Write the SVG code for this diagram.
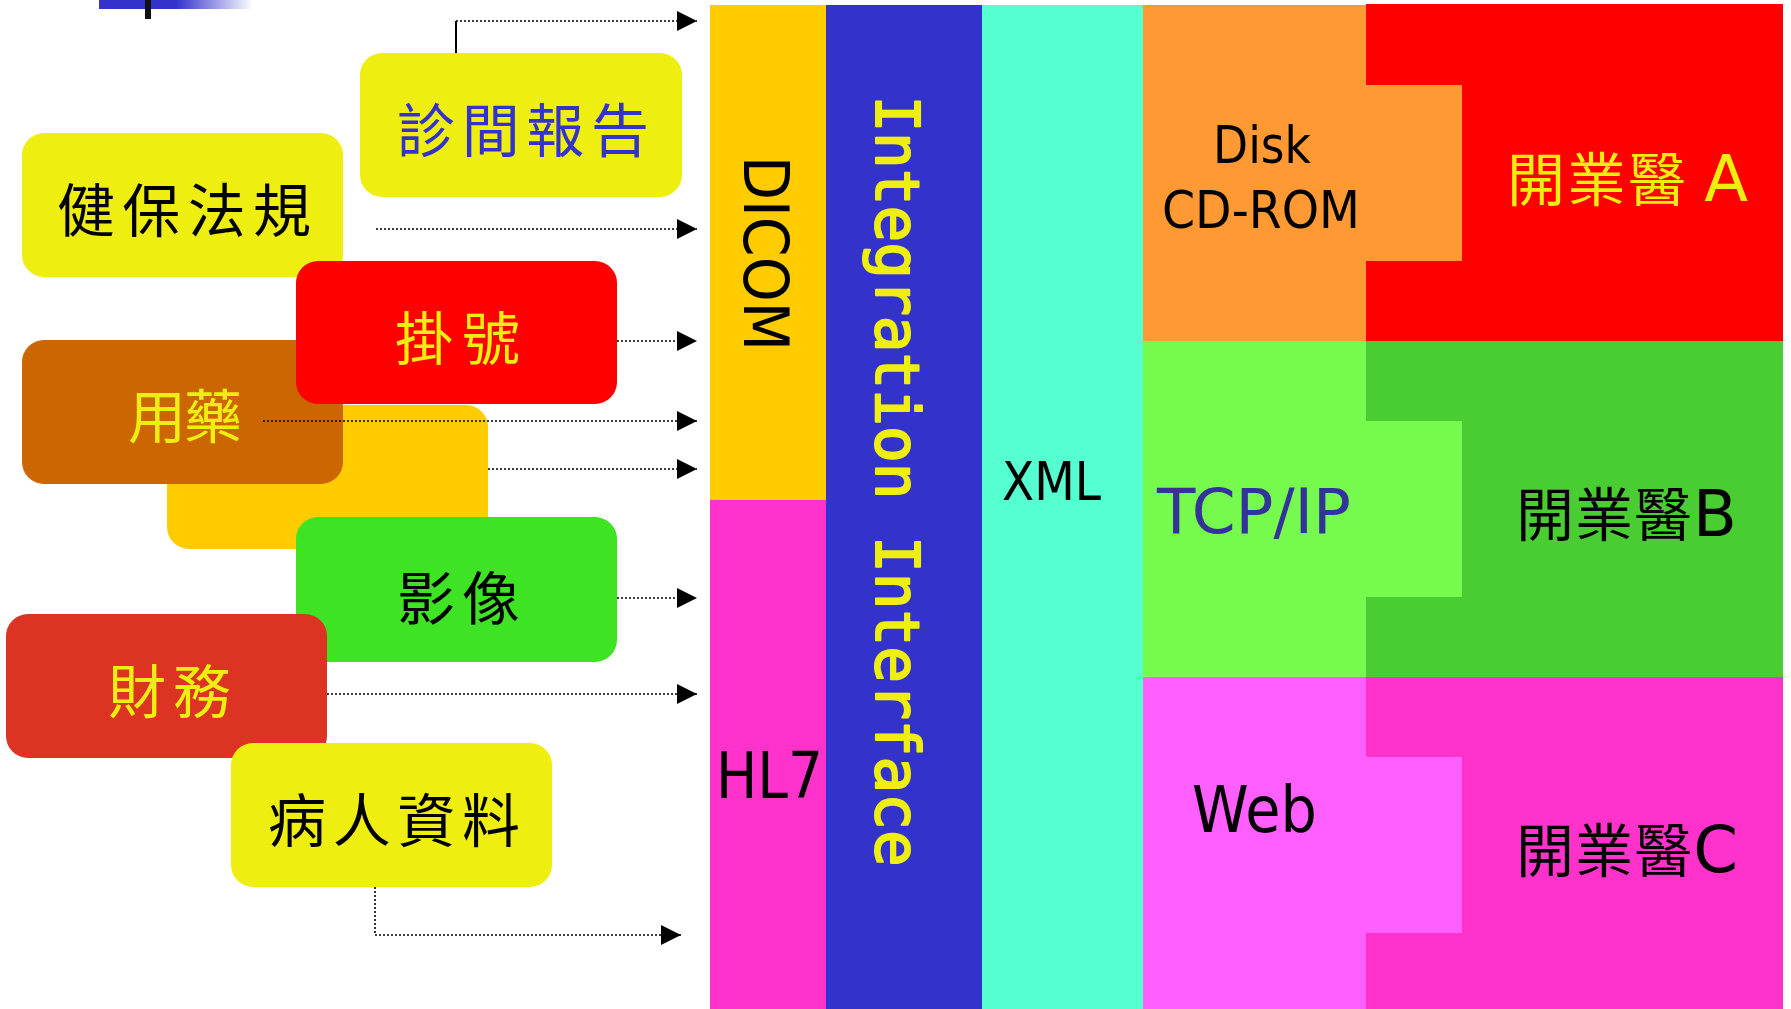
<svg xmlns="http://www.w3.org/2000/svg" width="1791" height="1009" viewBox="0 0 1791 1009">
<defs>
<linearGradient id="fade" x1="0" y1="0" x2="1" y2="0">
<stop offset="0" stop-color="#3333CC"/>
<stop offset="0.5" stop-color="#3333CC"/>
<stop offset="1" stop-color="#3333CC" stop-opacity="0"/>
</linearGradient>
<marker id="arr" markerUnits="userSpaceOnUse" markerWidth="20" markerHeight="20" refX="20" refY="10" orient="auto">
<path d="M0,0 L20,10 L0,20 z" fill="#000"/>
</marker>
<style>
.box{stroke:none}
.cjk{font-family:"Noto Sans CJK TC","Noto Sans CJK SC",sans-serif;font-size:58px}
.lat{font-family:"DejaVu Sans","Liberation Sans",sans-serif}
.conn{fill:none;stroke:#000;stroke-width:1.6;stroke-dasharray:2 2}
</style>
</defs>
<rect width="1791" height="1009" fill="#fff"/>

<g id="title-bar">
<rect x="99" y="0" width="154" height="9" fill="url(#fade)"/>
<rect x="145" y="0" width="6" height="19" fill="#111"/>
</g>

<g id="col-dicom">
<rect x="710" y="5" width="116" height="495" fill="#FFCC00"/>
<text class="lat" transform="translate(744,253.5) rotate(90)" text-anchor="middle" font-size="63" textLength="195" lengthAdjust="spacingAndGlyphs" fill="#000">DICOM</text>
</g>
<g id="col-hl7">
<rect x="710" y="500" width="116" height="509" fill="#FF33CC"/>
<text class="lat" x="716" y="798" font-size="64" textLength="107" lengthAdjust="spacingAndGlyphs" fill="#000">HL7</text>
</g>
<g id="col-integration">
<rect x="826" y="5" width="156" height="1004" fill="#3333CC"/>
<text transform="translate(876,481) rotate(90)" text-anchor="middle" font-family="'DejaVu Sans Mono','Liberation Mono',monospace" font-size="61" fill="#EEEE11" stroke="#EEEE11" stroke-width="2" stroke-linejoin="round">Integration Interface</text>
</g>
<g id="col-xml">
<rect x="982" y="5" width="161" height="1004" fill="#55FFD0"/>
<text class="lat" x="1002" y="500" font-size="54" textLength="99" lengthAdjust="spacingAndGlyphs" fill="#000">XML</text>
</g>

<g id="node-a">
<rect x="1366" y="4" width="417" height="337" fill="#FF0000"/>
<text class="cjk" x="1507" y="201" textLength="241" lengthAdjust="spacing" fill="#EEEE11">開業醫 <tspan class="lat" font-size="64">A</tspan></text>
</g>
<g id="node-disk">
<rect x="1143" y="5" width="223" height="336" fill="#FF9933"/>
<rect x="1365" y="85" width="97" height="176" fill="#FF9933"/>
<text class="lat" x="1262" y="163" text-anchor="middle" font-size="52" textLength="98" lengthAdjust="spacingAndGlyphs" fill="#000">Disk</text>
<text class="lat" x="1261" y="228" text-anchor="middle" font-size="52" textLength="198" lengthAdjust="spacingAndGlyphs" fill="#000">CD-ROM</text>
</g>

<g id="node-b">
<rect x="1366" y="341" width="417" height="336" fill="#4ACD33"/>
<text class="cjk" x="1516" y="536" textLength="221" lengthAdjust="spacing" fill="#000">開業醫<tspan class="lat" font-size="64">B</tspan></text>
</g>
<g id="node-tcp">
<rect x="1143" y="341" width="223" height="336" fill="#75FA4D"/>
<rect x="1365" y="421" width="97" height="176" fill="#75FA4D"/>
<text class="lat" x="1157" y="533" font-size="63" textLength="194" lengthAdjust="spacingAndGlyphs" fill="#333399">TCP/IP</text>
</g>

<g id="node-c">
<rect x="1366" y="677" width="417" height="332" fill="#FF33CC"/>
<text class="cjk" x="1516" y="872" textLength="222" lengthAdjust="spacing" fill="#000">開業醫<tspan class="lat" font-size="64">C</tspan></text>
</g>
<g id="node-web">
<rect x="1143" y="677" width="223" height="332" fill="#FF5FFF"/>
<rect x="1365" y="757" width="97" height="176" fill="#FF5FFF"/>
<text class="lat" x="1192" y="832" font-size="64" textLength="125" lengthAdjust="spacingAndGlyphs" fill="#000">Web</text>
</g>

<g id="box-clinic-report">
<rect class="box" x="360" y="53" width="322" height="144" rx="22" fill="#EEEE11"/>
<text class="cjk" x="397" y="152" textLength="252" lengthAdjust="spacing" fill="#3333CC">診間報告</text>
</g>
<g id="box-insurance">
<rect class="box" x="22" y="133" width="321" height="144" rx="22" fill="#EEEE11"/>
<text class="cjk" x="57" y="232" textLength="254" lengthAdjust="spacing" fill="#000">健保法規</text>
</g>
<g id="box-blank">
<rect class="box" x="167" y="405" width="321" height="144" rx="22" fill="#FFCC00"/>
</g>
<g id="box-medication">
<rect class="box" x="22" y="340" width="321" height="144" rx="22" fill="#CC6600"/>
<text class="cjk" x="128" y="438" textLength="114" lengthAdjust="spacing" fill="#EEEE11">用藥</text>
</g>
<g id="box-registration">
<rect class="box" x="296" y="261" width="321" height="143" rx="22" fill="#FF0000"/>
<text class="cjk" x="395" y="360" textLength="125" lengthAdjust="spacing" fill="#EEEE11">掛號</text>
</g>
<g id="box-imaging">
<rect class="box" x="296" y="517" width="321" height="145" rx="22" fill="#3EE324"/>
<text class="cjk" x="397" y="620" textLength="123" lengthAdjust="spacing" fill="#000">影像</text>
</g>
<g id="box-finance">
<rect class="box" x="6" y="614" width="321" height="144" rx="22" fill="#DD3322"/>
<text class="cjk" x="108" y="713" textLength="123" lengthAdjust="spacing" fill="#EEEE11">財務</text>
</g>
<g id="box-patient">
<rect class="box" x="231" y="743" width="321" height="144" rx="22" fill="#EEEE11"/>
<text class="cjk" x="268" y="842" textLength="252" lengthAdjust="spacing" fill="#000">病人資料</text>
</g>

<g id="connectors">
<line x1="456" y1="53" x2="456" y2="21" stroke="#000" stroke-width="2"/>
<path class="conn" d="M456,21 H697" marker-end="url(#arr)"/>
<path class="conn" d="M376,229 H697" marker-end="url(#arr)"/>
<path class="conn" d="M617,341 H697" marker-end="url(#arr)"/>
<path class="conn" d="M263,421 H697" marker-end="url(#arr)"/>
<path class="conn" d="M488,469 H697" marker-end="url(#arr)"/>
<path class="conn" d="M617,598 H697" marker-end="url(#arr)"/>
<path class="conn" d="M327,694 H697" marker-end="url(#arr)"/>
<path class="conn" d="M375,887 V935 H681" marker-end="url(#arr)"/>
</g>
</svg>
